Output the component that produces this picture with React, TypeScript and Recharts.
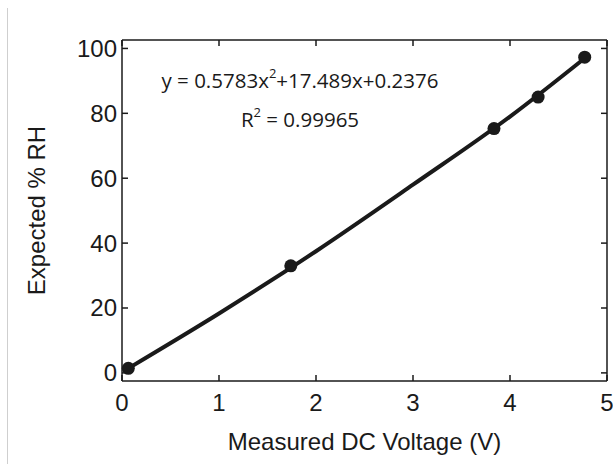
import React from "react";
import { ComposedChart, Line, Scatter, XAxis, YAxis } from "recharts";

// measured points
const voltage = [0.065, 1.74, 3.835, 4.29, 4.77];
const expectedRH = [1.4, 33, 75.3, 85, 97.3];

// fitted curve
const fitVoltage = [0.065, 1, 2, 3, 4, 4.77];
const fitRH = [1.4, 18.3, 37.5, 58, 79, 97];

const xTicks = [0, 1, 2, 3, 4, 5];
const yTicks = [0, 20, 40, 60, 80, 100];

const points = voltage.map((v, i) => ({ v, rh: expectedRH[i] }));
const fit = fitVoltage.map((v, i) => ({ v, rh: fitRH[i] }));

const INK = "#1a1a1a";
const FONT = "'Liberation Sans', Arial, sans-serif";
const TICK = 6;

function BottomTick({ x, y, payload }: any) {
  return (
    <g>
      <line x1={x} x2={x} y1={y - 10} y2={y - 10 - TICK} stroke={INK} strokeWidth={1.5} />
      <text x={x} y={y} dy={20} textAnchor="middle" fontSize={24} fontFamily={FONT} fill={INK}>
        {payload.value}
      </text>
    </g>
  );
}

function LeftTick({ x, y, payload }: any) {
  return (
    <g>
      <line x1={x + 5} x2={x + 5 + TICK} y1={y} y2={y} stroke={INK} strokeWidth={1.5} />
      <text x={x} y={y} dy={8.5} textAnchor="end" fontSize={24} fontFamily={FONT} fill={INK}>
        {payload.value}
      </text>
    </g>
  );
}

function TopTick({ x, y }: any) {
  return <line x1={x} x2={x} y1={y} y2={y + TICK} stroke={INK} strokeWidth={1.5} />;
}

function RightTick({ x, y }: any) {
  return <line x1={x} x2={x - TICK} y1={y} y2={y} stroke={INK} strokeWidth={1.5} />;
}

function Dot({ cx, cy }: any) {
  return <circle cx={cx} cy={cy} r={6.5} fill={INK} />;
}

export default function App() {
  return (
    <div style={{ position: "relative", width: 613, height: 464, background: "#fff" }}>
      <style>{"body{margin:0}"}</style>
      <div style={{ position: "absolute", left: 7, top: 8, width: 1, height: 456, background: "#cfcfcf" }} />
      <ComposedChart width={613} height={464} margin={{ top: 39, right: 5, left: 0, bottom: 0 }}>
        <XAxis
          xAxisId="b"
          type="number"
          dataKey="v"
          domain={[0, 5]}
          ticks={xTicks}
          interval={0}
          height={83}
          tickSize={0}
          tickMargin={10}
          tickLine={false}
          axisLine={{ stroke: INK, strokeWidth: 1.5 }}
          tick={BottomTick}
          label={{
            value: "Measured DC Voltage (V)",
            position: "insideBottom",
            offset: 14,
            fontSize: 24,
            fontFamily: FONT,
            fill: INK,
          }}
        />
        <XAxis
          xAxisId="t"
          orientation="top"
          type="number"
          dataKey="v"
          domain={[0, 5]}
          ticks={xTicks}
          interval={0}
          height={1}
          tickSize={0}
          tickMargin={0}
          tickLine={false}
          axisLine={{ stroke: INK, strokeWidth: 1.5 }}
          tick={TopTick}
        />
        <YAxis
          yAxisId="l"
          type="number"
          dataKey="rh"
          domain={[-2.5, 102.6]}
          ticks={yTicks}
          interval={0}
          width={122}
          tickSize={0}
          tickMargin={5}
          tickLine={false}
          axisLine={{ stroke: INK, strokeWidth: 1.5 }}
          tick={LeftTick}
          label={{
            value: "Expected % RH",
            angle: -90,
            position: "insideLeft",
            offset: 36,
            style: { textAnchor: "middle" },
            fontSize: 24,
            fontFamily: FONT,
            fill: INK,
          }}
        />
        <YAxis
          yAxisId="r"
          orientation="right"
          type="number"
          dataKey="rh"
          domain={[-2.5, 102.6]}
          ticks={yTicks}
          interval={0}
          width={1}
          tickSize={0}
          tickMargin={0}
          tickLine={false}
          axisLine={{ stroke: INK, strokeWidth: 1.5 }}
          tick={RightTick}
        />
        <Line
          xAxisId="t"
          yAxisId="r"
          data={fit}
          type="monotone"
          dataKey="rh"
          stroke={INK}
          strokeWidth={4}
          dot={false}
          activeDot={false}
          isAnimationActive={false}
        />
        <Scatter
          xAxisId="b"
          yAxisId="l"
          data={points}
          dataKey="rh"
          shape={Dot}
          isAnimationActive={false}
        />
      </ComposedChart>
      <div
        style={{
          position: "absolute",
          left: 0,
          width: 600,
          top: 57,
          textAlign: "center",
          fontFamily: "'Open Sans', 'Noto Sans', sans-serif",
          fontSize: 20.5,
          lineHeight: "32px",
          color: INK,
        }}
      >
        <div>
          y = 0.5783x<sup style={{ fontSize: 13, verticalAlign: "10px" }}>2</sup>+17.489x+0.2376
        </div>
        <div>
          R<sup style={{ fontSize: 13, verticalAlign: "10px" }}>2</sup> = 0.99965
        </div>
      </div>
    </div>
  );
}
